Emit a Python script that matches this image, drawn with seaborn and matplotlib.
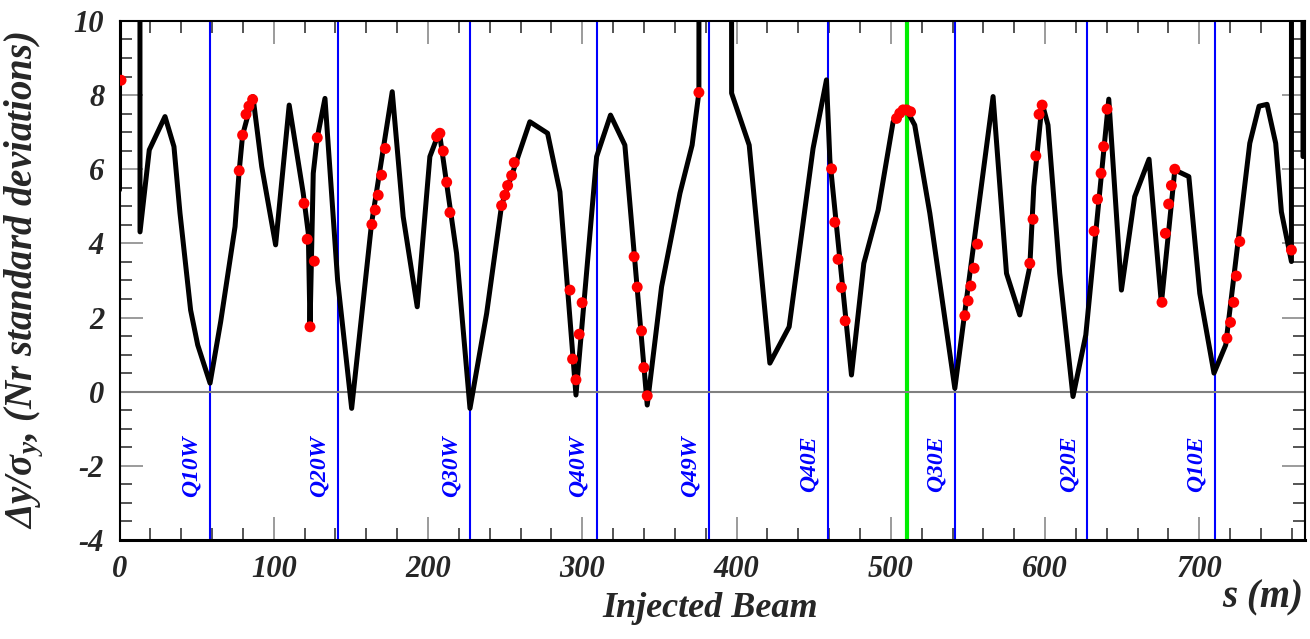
import matplotlib
matplotlib.use("Agg")
import matplotlib.pyplot as plt
import seaborn as sns
import pandas as pd
from matplotlib import font_manager as fm
from matplotlib.ticker import MultipleLocator

# ---------------- data ----------------
line_s = [0.0, 6.8, 13.3, 19.3, 29.5, 35.3, 39.2, 46.1, 50.7, 58.7, 65.6, 74.9, 77.6, 79.8,
          86.5, 92.2, 101.2, 110.0, 119.1, 122.4, 123.5, 125.6, 128.2, 133.2, 141.4, 150.5,
          163.4, 176.8, 183.9, 193.0, 201.2, 207.3, 218.5, 227.2, 238.0, 247.7, 266.0, 277.5,
          285.5, 295.9, 309.3, 318.3, 327.6, 342.1, 351.4, 363.3, 371.2, 375.6, 386.0, 396.8,
          408.2, 421.6, 434.1, 449.6, 458.3, 460.5, 474.5, 482.5, 491.8, 501.5, 509.7, 515.5,
          525.3, 541.5, 566.3, 575.0, 583.6, 590.1, 592.7, 598.1, 601.9, 609.5, 618.1, 626.4,
          641.3, 649.5, 658.1, 667.4, 675.4, 684.1, 693.2, 700.3, 709.5, 717.1, 732.7, 738.7,
          743.9, 749.5, 753.2, 759.7, 763.5, 767.2]
line_y = [5.44, 1000, 4.31, 6.52, 7.42, 6.61, 4.82, 2.20, 1.26, 0.23, 1.89, 4.45, 5.96, 6.92,
          7.96, 6.07, 3.96, 7.73, 5.35, 4.27, 1.75, 5.89, 6.85, 7.91, 3.00, -0.45,
          4.54, 8.09, 4.72, 2.29, 6.34, 7.01, 3.73, -0.45, 2.11, 5.03, 7.28, 6.97,
          5.39, -0.09, 6.34, 7.46, 6.65, -0.36, 2.83, 5.35, 6.65, 8.07, 1000, 8.05,
          6.65, 0.77, 1.75, 6.56, 8.41, 6.25, 0.45, 3.46, 4.90, 7.28, 7.64, 7.19,
          4.81, 0.09, 7.96, 3.19, 2.07, 3.37, 5.53, 7.78, 7.19, 3.19, -0.13, 1.53,
          7.89, 2.74, 5.26, 6.27, 2.38, 5.98, 5.80, 2.65, 0.50, 1.26, 6.70, 7.70,
          7.75, 6.70, 4.85, 3.51, 1000, 6.34]

bpm_s = [1.0, 77.6, 79.8, 82.0, 83.9, 86.3, 119.6, 121.7, 123.5, 126.3, 128.2,
         163.6, 165.8, 167.7, 169.9, 172.3, 205.6, 207.7, 209.9, 212.1, 214.2,
         247.7, 249.8, 251.6, 254.2, 255.9, 292.0, 293.7, 295.9, 298.0, 299.9,
         333.6, 335.6, 338.4, 339.9, 342.1, 375.6, 461.6, 463.7, 465.8, 468.0, 470.4,
         503.7, 505.8, 508.0, 510.2, 512.8, 548.0, 550.1, 551.9, 554.0, 556.2,
         590.1, 592.2, 594.0, 596.1, 598.1, 631.8, 634.0, 636.3, 638.0, 640.2,
         675.8, 678.0, 680.1, 681.9, 684.1, 717.9, 720.2, 722.3, 724.0, 726.2, 759.7]
bpm_y = [8.40, 5.96, 6.92, 7.48, 7.70, 7.88, 5.08, 4.11, 1.75, 3.52, 6.85,
         4.51, 4.90, 5.30, 5.84, 6.56, 6.88, 6.97, 6.49, 5.65, 4.83,
         5.02, 5.30, 5.56, 5.83, 6.18, 2.74, 0.88, 0.32, 1.55, 2.40,
         3.64, 2.82, 1.64, 0.65, -0.11, 8.07, 6.01, 4.57, 3.57, 2.81, 1.91,
         7.37, 7.51, 7.60, 7.60, 7.55, 2.05, 2.45, 2.85, 3.33, 3.98,
         3.46, 4.65, 6.36, 7.48, 7.73, 4.33, 5.19, 5.89, 6.61, 7.62,
         2.41, 4.27, 5.06, 5.56, 6.00, 1.44, 1.87, 2.41, 3.12, 4.05, 3.82]

quad_names = ["Q10W", "Q20W", "Q30W", "Q40W", "Q49W", "Q40E", "Q30E", "Q20E", "Q10E"]
quad_s = [58.7, 141.4, 227.2, 309.5, 382.2, 459.2, 541.5, 627.5, 710.2]
ip_s = 510.6

x_ticks = [0, 100, 200, 300, 400, 500, 600, 700]
y_ticks = [-4, -2, 0, 2, 4, 6, 8, 10]

line_df = pd.DataFrame({"s": line_s, "dy": line_y})
bpm_df = pd.DataFrame({"s": bpm_s, "dy": bpm_y})

# ---------------- style ----------------
sns.set_style("ticks")
plt.rcParams.update({
    "font.family": ["Liberation Serif", "DejaVu Serif"],
    "font.weight": "bold",
    "font.style": "italic",
    "axes.unicode_minus": False,
    "mathtext.fontset": "custom",
    "mathtext.rm": "Liberation Serif:bold",
    "mathtext.it": "Liberation Serif:bold:italic",
    "mathtext.bf": "Liberation Serif:bold",
})


def fp(size):
    return fm.FontProperties(family="Liberation Serif", weight="bold",
                             style="italic", size=size)


fig = plt.figure(figsize=(13.1, 6.39), dpi=100)
ax = fig.add_axes([119.5 / 1310, 99 / 639, (1305 - 119.5) / 1310, (540 - 20.9) / 639])

for q in quad_s:
    ax.axvline(q, color="#0000ff", lw=1.5, zorder=1)
ax.axvline(ip_s, color="#00ee00", lw=3.0, zorder=1)
ax.axhline(0, color="0.5", lw=1.5, zorder=1)

sns.lineplot(data=line_df, x="s", y="dy", sort=False, estimator=None,
             color="black", lw=3.6, ax=ax, zorder=3)
sns.scatterplot(data=bpm_df, x="s", y="dy", color="#ff0000", s=62,
                edgecolor="none", linewidth=0, ax=ax, zorder=4)

for name, q in zip(quad_names, quad_s):
    ax.annotate(name, xy=(q, -1.18), xytext=(-8, 0), textcoords="offset pixels",
                rotation=90, rotation_mode="anchor", ha="right", va="bottom",
                color="#0000ff", fontproperties=fp(17), zorder=5)

ax.set_xlim(0, 768.5)
ax.set_ylim(-4, 10)
ax.set_xticks(x_ticks)
ax.set_xticklabels([str(t) for t in x_ticks])
ax.set_yticks(y_ticks)
ax.set_yticklabels([str(t) for t in y_ticks])
ax.xaxis.set_minor_locator(MultipleLocator(20))
ax.yaxis.set_minor_locator(MultipleLocator(0.5))
ax.tick_params(which="both", direction="in", top=True, right=True,
               bottom=True, left=True)
ax.tick_params(which="major", length=16.5, width=1.1, color="0.5", pad=11)
ax.tick_params(which="minor", length=8.5, width=1.1, color="0.15")
for lbl in ax.get_xticklabels() + ax.get_yticklabels():
    lbl.set_fontproperties(fp(22))

for sp in ax.spines.values():
    sp.set_color("black")
    sp.set_linewidth(1.5)
ax.spines["bottom"].set_linewidth(2.2)

ax.set_xlabel("")
ax.set_ylabel(r"$\Delta$y/$\mathrm{\sigma}_{y}$, (Nr standard deviations)",
              fontproperties=fp(28))
ax.yaxis.set_label_coords(-0.062, 0.5)

fig.text(1303 / 1310, 1 - 607 / 639, "s (m)", ha="right", va="baseline",
         fontproperties=fp(28))
fig.text(710 / 1310, 1 - 617 / 639, "Injected Beam", ha="center", va="baseline",
         fontproperties=fp(26))

fig.savefig("out.png", dpi=100)
